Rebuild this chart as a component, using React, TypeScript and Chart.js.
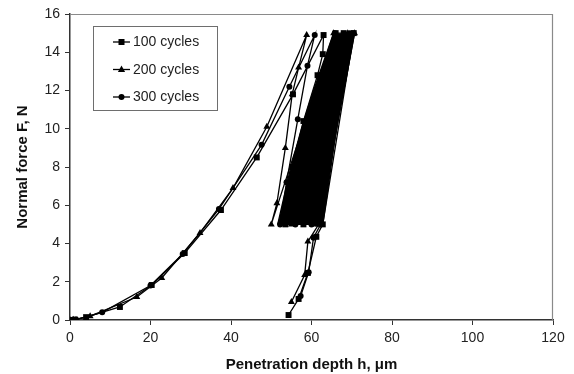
import React, { useEffect, useRef } from "react";
import { Chart, registerables } from "chart.js";

Chart.register(...registerables);

const FONT = "'Liberation Sans', Arial, Helvetica, sans-serif";

// Axis settings
const xMin = 0;
const xMax = 120;
const xStep = 20;
const yMin = 0;
const yMax = 16;
const yStep = 2;

const xTitle = "Penetration depth h, μm";
const yTitle = "Normal force F, N";

const seriesLabels = ["100 cycles", "200 cycles", "300 cycles"];
const seriesMarkers = ["rect", "triangle", "circle"];

// 100 cycles (squares): loading, first unloading, cycling, final unloading
const h100 = [0, 0.4, 1.2, 4, 12.4, 20.3, 28.5, 37.5, 46.4, 55.4, 63, 62.8, 61.5, 58, 55.2, 53, 66, 53.5, 68, 58, 70.5, 62.8, 61.2, 59.1, 56.8, 54.3];
const f100 = [0, 0, 0.02, 0.15, 0.68, 1.83, 3.5, 5.75, 8.5, 11.8, 14.9, 13.9, 12.8, 10.4, 8, 5.1, 15, 5, 15, 5, 15, 5, 4.35, 2.46, 1.1, 0.26];

// 200 cycles (triangles)
const h200 = [0, 0.8, 5, 16.6, 22.8, 32.3, 40.5, 48.9, 58.8, 56.8, 55.2, 53.5, 51.4, 50, 65.5, 55, 69, 61, 70.7, 61.8, 59.1, 58.3, 55];
const f200 = [0, 0.01, 0.2, 1.2, 2.2, 4.55, 6.9, 10.1, 14.9, 13.2, 11.8, 9, 6.1, 5, 15, 5, 15, 5, 15, 5, 4.1, 2.35, 0.94];

// 300 cycles (circles)
const h300 = [0, 1.5, 8, 20, 28, 37, 47.6, 54.5, 60.8, 59, 56.6, 53.8, 52.2, 65.8, 56, 69.5, 60, 70.2, 62.3, 60.5, 59.3, 57.3];
const f300 = [0, 0.02, 0.4, 1.8, 3.45, 5.8, 9.16, 12.2, 14.9, 13.3, 10.5, 7.2, 5, 15, 5, 15, 5, 15, 5, 4.3, 2.5, 1.25];

// Outline of the dense region covered by the many load/unload cycles (5 N <-> 15 N)
const bandH = [51.6, 54.6, 57.5, 60.5, 63, 65.5, 70.7, 68.5, 66.5, 64.5, 62.8, 51.6];
const bandF = [5, 7.75, 10, 12, 13.5, 15, 15, 12.5, 10.5, 7.5, 5, 5];

const toPoints = (xs: number[], ys: number[]) => xs.map((x, i) => ({ x, y: ys[i] }));

function drawMarker(ctx: CanvasRenderingContext2D, style: string, x: number, y: number) {
  ctx.beginPath();
  if (style === "rect") {
    ctx.rect(x - 3, y - 3, 6, 6);
  } else if (style === "triangle") {
    ctx.moveTo(x, y - 4);
    ctx.lineTo(x + 3.6, y + 2.6);
    ctx.lineTo(x - 3.6, y + 2.6);
    ctx.closePath();
  } else {
    ctx.arc(x, y, 3, 0, Math.PI * 2);
  }
  ctx.fill();
}

const frameAndLegend = {
  id: "frameAndLegend",
  beforeDatasetsDraw(chart: any) {
    const { ctx, chartArea } = chart;
    ctx.save();
    ctx.strokeStyle = "#8a8a8a";
    ctx.lineWidth = 1.2;
    ctx.beginPath();
    ctx.moveTo(chartArea.left, chartArea.top + 0.5);
    ctx.lineTo(chartArea.right - 0.5, chartArea.top + 0.5);
    ctx.lineTo(chartArea.right - 0.5, chartArea.bottom);
    ctx.stroke();
    ctx.restore();
  },
  afterDatasetsDraw(chart: any) {
    const { ctx, chartArea } = chart;
    const bx = chartArea.left + 23;
    const by = chartArea.top + 12;
    const bw = 124;
    const bh = 84;
    ctx.save();
    ctx.fillStyle = "#ffffff";
    ctx.fillRect(bx, by, bw, bh);
    ctx.strokeStyle = "#6e6e6e";
    ctx.lineWidth = 1;
    ctx.strokeRect(bx + 0.5, by + 0.5, bw, bh);
    ctx.font = `14px ${FONT}`;
    ctx.textBaseline = "middle";
    ctx.textAlign = "left";
    seriesLabels.forEach((label, i) => {
      const y = by + 16 + i * 27.5;
      ctx.strokeStyle = "#000";
      ctx.lineWidth = 1.3;
      ctx.beginPath();
      ctx.moveTo(bx + 20, y);
      ctx.lineTo(bx + 37, y);
      ctx.stroke();
      ctx.fillStyle = "#000";
      drawMarker(ctx, seriesMarkers[i], bx + 28.5, y);
      ctx.fillStyle = "#222";
      ctx.fillText(label, bx + 40, y + 0.5);
    });
    ctx.restore();
  },
};

export default function App() {
  const canvasRef = useRef<HTMLCanvasElement | null>(null);

  useEffect(() => {
    const canvas = canvasRef.current;
    if (!canvas) return;

    const seriesDataset = (label: string, xs: number[], ys: number[], style: string, radius: number) => ({
      label,
      data: toPoints(xs, ys),
      borderColor: "#000",
      backgroundColor: "#000",
      borderWidth: 1.3,
      pointStyle: style,
      pointRadius: radius,
      pointBorderWidth: 0,
      pointBackgroundColor: "#000",
      fill: false,
      tension: 0,
    });

    const chart = new Chart(canvas, {
      type: "line",
      data: {
        datasets: [
          seriesDataset(seriesLabels[0], h100, f100, "rect", 4.2),
          seriesDataset(seriesLabels[1], h200, f200, "triangle", 4),
          seriesDataset(seriesLabels[2], h300, f300, "circle", 3),
          {
            label: "cycles",
            data: toPoints(bandH, bandF),
            borderColor: "#000",
            backgroundColor: "#000",
            borderWidth: 1.3,
            pointRadius: 0,
            fill: "shape",
            tension: 0,
          } as any,
        ],
      },
      options: {
        responsive: false,
        animation: false,
        events: [],
        layout: { padding: { top: 14, right: 21, left: 0, bottom: 0 } },
        plugins: {
          legend: { display: false },
          tooltip: { enabled: false },
        },
        scales: {
          x: {
            type: "linear",
            min: xMin,
            max: xMax,
            ticks: { stepSize: xStep, color: "#222", font: { family: FONT, size: 14 }, padding: 5 },
            grid: { drawOnChartArea: false, drawTicks: true, tickLength: 5, color: "#333", tickColor: "#333" },
            border: { display: true, color: "#333", width: 1.5 },
            title: {
              display: true,
              text: xTitle,
              color: "#111",
              font: { family: FONT, size: 15, weight: "bold" },
              padding: { top: 0, bottom: 0 },
            },
            afterFit: (s: any) => {
              s.height = 54;
            },
          },
          y: {
            type: "linear",
            min: yMin,
            max: yMax,
            ticks: { stepSize: yStep, color: "#222", font: { family: FONT, size: 14 }, padding: 5 },
            grid: { drawOnChartArea: false, drawTicks: true, tickLength: 5, color: "#333", tickColor: "#333" },
            border: { display: true, color: "#333", width: 1.5 },
            title: {
              display: true,
              text: yTitle,
              color: "#111",
              font: { family: FONT, size: 15, weight: "bold" },
              padding: { top: 14, bottom: 0 },
            },
            afterFit: (s: any) => {
              s.width = 70;
            },
          },
        },
      } as any,
      plugins: [frameAndLegend],
    });

    return () => chart.destroy();
  }, []);

  return (
    <div style={{ position: "fixed", left: 0, top: 0, width: 574, height: 374, background: "#fff" }}>
      <canvas ref={canvasRef} width={574} height={374} style={{ display: "block", width: 574, height: 374 }} />
    </div>
  );
}
